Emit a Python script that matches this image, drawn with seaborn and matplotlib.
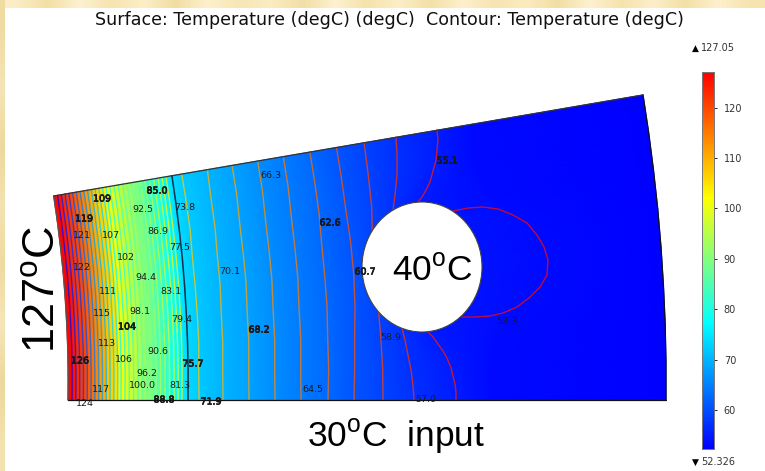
import numpy as np
import pandas as pd
import seaborn as sns
import matplotlib
matplotlib.use("agg")
import matplotlib.pyplot as plt
from matplotlib.colors import LinearSegmentedColormap, Normalize
from matplotlib.patches import Ellipse
import matplotlib.patheffects as pe

T_MAX = 127.05
T_MIN = 52.326

# stations along the arcs, 0 = bottom edge, 1 = top edge
stations = [0, 0.125, 0.25, 0.375, 0.5, 0.625, 0.75, 0.875, 1]
arc_shift = [0, 0.4, 0.8, 1.1, 1.5, 1.9, 2.2, 2.6, 3]

# hot zone isotherms, read along the bottom edge
hot_levels = [126, 124, 122, 121, 119, 117, 115, 113, 111, 109, 107, 106, 104, 102, 100.0,
              98.1, 96.2, 94.4, 92.5, 90.6, 88.8, 86.9, 85.0, 83.1, 81.3, 79.4, 77.5, 75.7]
hot_pos = [72, 75.8, 79.6, 83.4, 87.2, 91, 94.8, 98.6, 102.4, 106.2, 110, 113.8, 117.6, 121, 125,
           129.2, 133.5, 138, 142.5, 147, 151.5, 156, 160.5, 165, 169.5, 174, 178, 182]
hot_edge = 68
boundary_level = 73.8
boundary_pos = 188
cold_edge = 666

# cool zone isotherms bend round the hole, one row per level
cool_levels = [71.9, 70.1, 68.2, 66.3, 64.5, 62.6, 60.7, 58.9, 57.0, 55.1]
cool_pos = [
    [199, 199, 200, 200, 200, 200, 201, 201, 201],
    [223, 223, 224, 224, 225, 225, 226, 226, 227],
    [249, 249, 250, 250, 251, 251, 251, 252, 252],
    [275, 275, 276, 276, 277, 277, 277, 278, 278],
    [301, 301, 302, 302, 303, 303, 303, 304, 304],
    [328, 329, 329, 330, 330, 330, 331, 331, 331],
    [354, 355, 356, 358, 359, 359, 358, 358, 358],
    [383, 383, 382, 381, 378, 381, 384, 385, 386],
    [414, 410, 405, 395, 390, 395, 406, 414, 418],
    [456, 450, 431, 422, 420, 422, 431, 453, 460],
]
under_level = 53.3
under_pos = [490, 490, 500, 540, 553, 540, 500, 490, 495]

# the contours next to the hole, traced piece by piece
traced_levels = [57.0, 57.0, 55.1, 55.1, 53.3]
traced_x = [
    [414, 413, 411, 408, 405, 402],
    [396, 397, 397, 395, 393],
    [456, 456, 455, 453, 451, 447, 443, 438, 433, 428],
    [437, 438, 437, 436, 433, 430, 426, 422, 418],
    [453, 468, 483, 498, 513, 527, 537, 544, 548, 547, 540, 530, 517, 503, 490, 475, 462],
]
traced_y = [
    [400, 385, 370, 355, 340, 328],
    [137, 155, 175, 195, 210],
    [400, 392, 384, 376, 368, 358, 351, 344, 337, 332],
    [130, 140, 150, 160, 171, 182, 190, 197, 202],
    [211, 208, 207, 209, 215, 223, 235, 247, 260, 275, 287, 297, 307, 313, 316, 317, 317],
]

hole_x = 422
hole_y = 267
hole_w = 120
hole_h = 130

label_text = ["126", "124", "122", "121", "119", "117", "115", "113", "111", "109", "107", "106",
              "104", "102", "100.0", "98.1", "96.2", "94.4", "92.5", "90.6", "88.8", "86.9",
              "85.0", "83.1", "81.3", "79.4", "77.5", "75.7", "73.8", "71.9", "70.1", "68.2",
              "66.3", "64.5", "62.6", "60.7", "58.9", "57.0", "55.1", "53.3"]
label_x = [80, 85, 82, 82, 84, 101, 102, 107, 108, 102, 111, 124, 127, 126, 142, 140, 147, 146,
           143, 158, 164, 158, 157, 171, 180, 182, 180, 193, 185, 211, 230, 259, 271, 313, 330,
           365, 391, 426, 447, 507]
label_y = [361, 403, 268, 236, 219, 390, 313, 344, 291, 199, 236, 360, 327, 257, 386, 311, 374,
           278, 210, 352, 400, 231, 191, 292, 386, 320, 248, 364, 208, 402, 272, 330, 176, 389,
           223, 272, 338, 400, 161, 321]
heavy_labels = ["126", "119", "109", "104", "88.8", "85.0", "75.7", "71.9", "68.2", "62.6", "60.7", "55.1"]

cbar_ticks = [60, 70, 80, 90, 100, 110, 120]

# mottled page edge behind the plot
top_shades = ["#fbeec6", "#f3dfa6", "#fdf2cf", "#f6e4b0", "#fcefc8", "#f1dca2", "#fdf1cc", "#f7e6b6",
              "#fbedc2", "#f2dea6", "#fdf2ce", "#f5e2ac", "#fceec6", "#f3e0a8", "#fdf0ca", "#f6e5b2",
              "#fbecc0", "#f2dda4", "#fdf2cf", "#f5e3ae", "#fcefc8", "#f3dfa6", "#fdf1cc", "#f6e4b0"]
left_shades = ["#f0dca2", "#f5e5b6", "#eed99c", "#f4e3b0", "#efdba0", "#f6e6b8", "#edd89a", "#f3e2ae"]

rainbow = LinearSegmentedColormap.from_list("rainbow", ["#0000ff", "#00ffff", "#ffff00", "#ff0000"])
rainbow_r = rainbow.reversed()


def to_xy(pos, frac):
    # sector arcs round an apex far left of the picture
    rad = np.asarray(pos, dtype=float) + 1136
    ang = np.radians(9.73) * np.asarray(frac)
    return -1136 + rad * np.cos(ang), 400 - rad * np.sin(ang)


sns.set_theme(style="white")
plt.rcParams["font.family"] = ["DejaVu Sans"]
plt.rcParams["mathtext.fontset"] = "custom"
plt.rcParams["mathtext.rm"] = "Liberation Sans"

fig = plt.figure(figsize=(7.65, 4.71), dpi=100, facecolor="white")
ax = fig.add_axes([0, 0, 1, 1])

top_rgb = np.array([matplotlib.colors.to_rgb(c) for c in top_shades])[None, :, :]
left_rgb = np.array([matplotlib.colors.to_rgb(c) for c in left_shades])[:, None, :]
ax.imshow(top_rgb, extent=(0, 765, 8, 0), aspect="auto", interpolation="bilinear")
ax.imshow(left_rgb, extent=(0, 5, 471, 0), aspect="auto", interpolation="bilinear")
ax.set_xlim(0, 765)
ax.set_ylim(471, 0)
ax.axis("off")

# surface: one mesh column per isotherm
rows = [[hot_edge + s for s in arc_shift]]
rows += [[p + s for s in arc_shift] for p in hot_pos]
rows += [[boundary_pos + s for s in arc_shift]]
rows += cool_pos
rows += [under_pos]
rows += [[cold_edge + s for s in arc_shift]]
temps = [T_MAX] + hot_levels + [boundary_level] + cool_levels + [under_level, T_MIN]

pos = np.array(rows, dtype=float)
frac = np.tile(stations, (len(rows), 1))
X, Y = to_xy(pos, frac)
C = np.tile(np.array(temps)[:, None], (1, len(stations)))
ax.pcolormesh(X, Y, C, shading="gouraud", cmap=rainbow, vmin=T_MIN, vmax=T_MAX)

# contours, coloured with the reversed scale
frames = []
line_id = 0
for lev, row in zip(hot_levels, pos[1:len(hot_levels) + 1]):
    x, y = to_xy(row, stations)
    frames.append(pd.DataFrame({"x": x, "y": y, "level": lev, "line": line_id}))
    line_id += 1
for lev, row in zip(cool_levels[:-2], cool_pos[:-2]):
    x, y = to_xy(row, stations)
    frames.append(pd.DataFrame({"x": x, "y": y, "level": lev, "line": line_id}))
    line_id += 1
for lev, x, y in zip(traced_levels, traced_x, traced_y):
    frames.append(pd.DataFrame({"x": x, "y": y, "level": lev, "line": line_id}))
    line_id += 1
lines = pd.concat(frames, ignore_index=True)
sns.lineplot(data=lines, x="x", y="y", hue="level", units="line", estimator=None, sort=False,
             palette=rainbow_r, hue_norm=Normalize(T_MIN, T_MAX), lw=1.0, alpha=0.75,
             legend=False, ax=ax)

# boundary between the two materials
bx, by = to_xy([boundary_pos + s for s in arc_shift], stations)
sns.lineplot(x=bx, y=by, sort=False, estimator=None, color="#10304a", lw=1.1, ax=ax)

# outline of the sector
lx, ly = to_xy([hot_edge + s for s in arc_shift], stations)
rx, ry = to_xy([cold_edge + s for s in arc_shift], stations)
sns.lineplot(x=lx, y=ly, sort=False, estimator=None, color="#555555", lw=0.9, ax=ax)
sns.lineplot(x=rx, y=ry, sort=False, estimator=None, color="#111111", lw=0.9, ax=ax)
sns.lineplot(x=[lx[0], rx[0]], y=[ly[0], ry[0]], sort=False, estimator=None, color="#111111", lw=0.9, ax=ax)
sns.lineplot(x=[lx[-1], rx[-1]], y=[ly[-1], ry[-1]], sort=False, estimator=None, color="#333333", lw=0.9, ax=ax)

ax.add_patch(Ellipse((hole_x, hole_y), hole_w, hole_h, facecolor="white", edgecolor="#444444", lw=0.8, zorder=3))

for txt, x, y in zip(label_text, label_x, label_y):
    t = ax.text(x, y, txt, ha="center", va="center", fontsize=6.8, color="#1a1a1a", zorder=4)
    if txt in heavy_labels:
        t.set_path_effects([pe.withStroke(linewidth=0.5, foreground="#111111")])

ax.text(389.5, 20, "Surface: Temperature (degC) (degC)  Contour: Temperature (degC)",
        ha="center", va="center", fontsize=12.6, color="#111111")
big = dict(family="Liberation Sans", color="black", zorder=5)
ax.text(432.5, 271, "40$^{\\mathrm{o}}$C", ha="center", va="center", fontsize=25.5, **big)
ax.text(396.5, 436, "30$^{\\mathrm{o}}$C  input", ha="center", va="center", fontsize=25.5, **big)
ax.text(43, 289, "127$^{\\mathrm{o}}$C", ha="center", va="center", rotation=90, fontsize=32.5, **big)

# colour bar
cax = fig.add_axes([702 / 765, 1 - 449 / 471, 12 / 765, 377 / 471])
grad = np.linspace(T_MAX, T_MIN, 256)[:, None]
sns.heatmap(grad, ax=cax, cmap=rainbow, vmin=T_MIN, vmax=T_MAX, cbar=False, xticklabels=False, yticklabels=False)
cax.set_yticks([(T_MAX - v) / (T_MAX - T_MIN) * 256 for v in cbar_ticks])
cax.set_yticklabels([str(v) for v in cbar_ticks], rotation=0, fontsize=7, color="#333333")
cax.yaxis.tick_right()
cax.tick_params(axis="y", length=2, width=0.7, pad=5, right=True, color="#222222")
for side in cax.spines.values():
    side.set_visible(True)
    side.set_color("#777777")
    side.set_linewidth(0.7)

ax.text(695, 48, "\u25b2", ha="center", va="center", fontsize=6.5, color="black")
ax.text(701, 48, "127.05", ha="left", va="center", fontsize=7, color="#333333")
ax.text(695, 462, "\u25bc", ha="center", va="center", fontsize=6.5, color="black")
ax.text(701, 462, "52.326", ha="left", va="center", fontsize=7, color="#333333")

fig.savefig("out.png", dpi=100)
